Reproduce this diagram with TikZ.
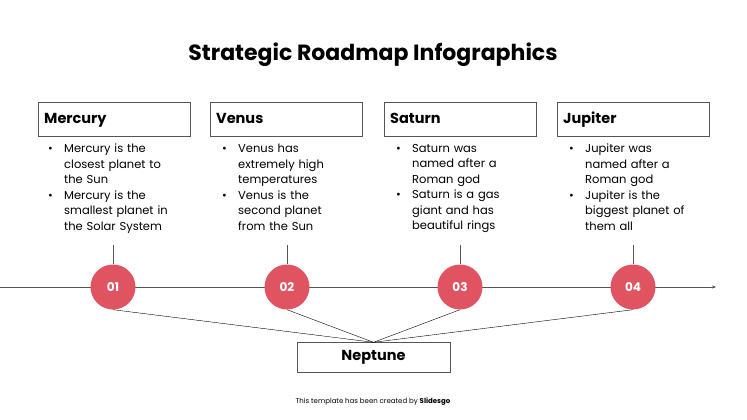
\documentclass[tikz,border=0pt]{standalone}
\usepackage{fontspec}
\setmainfont{Poppins}
\usetikzlibrary{positioning,arrows.meta}
\definecolor{dotred}{HTML}{E05462}
\definecolor{linegray}{HTML}{555555}
\tikzset{
  planetbox/.style={draw=linegray,minimum width=152pt,minimum height=34pt,
    inner xsep=6pt,anchor=north west,text width=140pt,text height=11pt,text depth=3pt,
    font=\fontsize{14.5}{16}\selectfont\bfseries},
  numdot/.style={circle,fill=dotred,draw=none,minimum size=45pt,inner sep=0pt,
    text=white,font=\fontsize{12}{14}\selectfont\bfseries},
  notes/.style={anchor=north west,text width=127pt,inner sep=0pt,align=left,
    font=\fontsize{11.5}{15.5}\selectfont},
}
\newcommand{\noteitem}[1]{\noindent\hangindent=16pt\hangafter=1\makebox[16pt][l]{\textbullet}#1\par}
\begin{document}
\begin{tikzpicture}[x=1pt,y=-1pt,thin]
  \useasboundingbox (0,0) rectangle (747,420);
  \node[font=\fontsize{22}{26}\selectfont\bfseries] (title) at (373,55) {Strategic Roadmap Infographics};

  \coordinate (axisL) at (0,287);
  \coordinate (axisR) at (716,287);
  \draw[linegray,-{Stealth[length=4pt,width=3pt]}] (axisL) -- (axisR);

  \node[planetbox] (b1) at (38,102) {Mercury};
  \node[planetbox] (b2) at (210,102) {Venus};
  \node[planetbox] (b3) at (384,102) {Saturn};
  \node[planetbox] (b4) at (557,102) {Jupiter};

  \node[notes] (n1) at (48,144) {\hyphenpenalty=10000\noteitem{Mercury is the closest planet to the Sun}\noteitem{Mercury is the smallest planet in the Solar System}};
  \node[notes] (n2) at (222,144) {\hyphenpenalty=10000\noteitem{Venus has extremely high temperatures}\noteitem{Venus is the second planet from the Sun}};
  \node[notes] (n3) at (396,144) {\hyphenpenalty=10000\noteitem{Saturn was\newline named after a Roman god}\noteitem{Saturn is a gas giant and has beautiful rings}};
  \node[notes] (n4) at (569,144) {\hyphenpenalty=10000\noteitem{Jupiter was named after a Roman god}\noteitem{Jupiter is the biggest planet of them all}};

  \node[draw=linegray,minimum width=153pt,minimum height=30pt,font=\fontsize{14.5}{16}\selectfont\bfseries] (nep) at (373.5,357.5) {Neptune};

  \foreach \i/\x in {1/113,2/287,3/460,4/633} {
    \coordinate (t\i) at (\x,245);
    \node[numdot] (d\i) at (\x,287) {0\i};
    \draw[linegray] (t\i) -- (d\i.north);
    \draw[black] (d\i.south) -- (nep.north);
  }

  \node[font=\fontsize{7}{8}\selectfont] (credit) at (373,402) {This template has been created by \textbf{Slidesgo}};
\end{tikzpicture}
\end{document}
